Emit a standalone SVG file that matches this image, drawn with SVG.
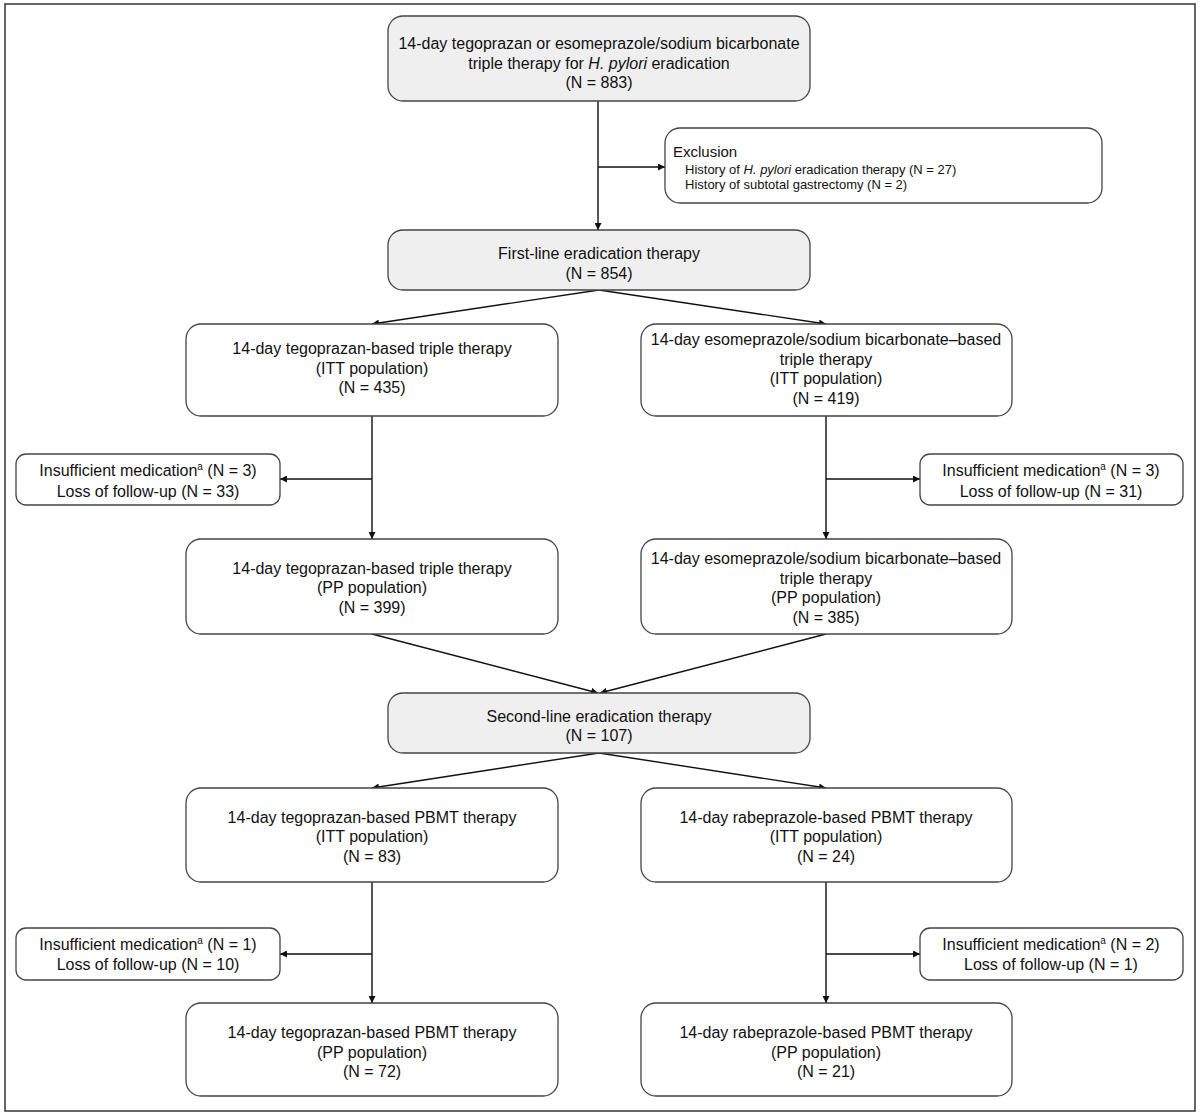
<svg xmlns="http://www.w3.org/2000/svg" width="1200" height="1115" viewBox="0 0 1200 1115">
<defs>
<marker id="ah" viewBox="0 0 10 10" refX="10" refY="5" markerWidth="7" markerHeight="7" markerUnits="userSpaceOnUse" orient="auto"><path d="M0,0 L10,5 L0,10 z" fill="#111"/></marker>
<style>
.b{fill:#fff;stroke:#444;stroke-width:1.3}
.g{fill:#efefef;stroke:#444;stroke-width:1.3}
text{font-family:"Liberation Sans",Arial,sans-serif;font-size:16px;fill:#111;text-anchor:middle}
.s{font-size:13px;text-anchor:start}
.l{text-anchor:start;font-size:15px}
.c{fill:none;stroke:#111;stroke-width:1.4}
.a{marker-end:url(#ah)}
</style>
</defs>
<rect x="0" y="0" width="1200" height="1115" fill="#fff"/>
<rect x="5" y="4" width="1190" height="1107" fill="none" stroke="#333" stroke-width="1.5"/>
<g id="connectors">
<line class="c a" x1="598" y1="101" x2="598" y2="230"/>
<line class="c a" x1="598" y1="167" x2="665" y2="167"/>
<line class="c a" x1="599" y1="290" x2="372" y2="324"/>
<line class="c a" x1="599" y1="290" x2="826" y2="324"/>
<line class="c a" x1="372" y1="416" x2="372" y2="539"/>
<line class="c a" x1="372" y1="479" x2="280" y2="479"/>
<line class="c a" x1="826" y1="416" x2="826" y2="539"/>
<line class="c a" x1="826" y1="479" x2="920" y2="479"/>
<line class="c a" x1="372" y1="634" x2="598" y2="693"/>
<line class="c a" x1="826" y1="634" x2="600" y2="693"/>
<line class="c a" x1="599" y1="753" x2="372" y2="788"/>
<line class="c a" x1="599" y1="753" x2="826" y2="788"/>
<line class="c a" x1="372" y1="882" x2="372" y2="1003"/>
<line class="c a" x1="372" y1="954" x2="280" y2="954"/>
<line class="c a" x1="826" y1="882" x2="826" y2="1003"/>
<line class="c a" x1="826" y1="954" x2="920" y2="954"/>
</g>
<g id="n-start">
<rect class="g" x="388" y="16" width="422" height="85" rx="15"/>
<text x="599" y="49">14-day tegoprazan or esomeprazole/sodium bicarbonate</text>
<text x="599" y="69">triple therapy for <tspan font-style="italic">H. pylori</tspan> eradication</text>
<text x="599" y="88">(N = 883)</text>
</g>
<g id="n-exclusion">
<rect class="b" x="665" y="128" width="437" height="75" rx="15"/>
<text class="l" x="673" y="157">Exclusion</text>
<text class="s" x="685" y="174">History of <tspan font-style="italic">H. pylori</tspan> eradication therapy (N = 27)</text>
<text class="s" x="685" y="189">History of subtotal gastrectomy (N = 2)</text>
</g>
<g id="n-first">
<rect class="g" x="388" y="230" width="422" height="60" rx="15"/>
<text x="599" y="259">First-line eradication therapy</text>
<text x="599" y="279">(N = 854)</text>
</g>
<g id="n-teg-itt">
<rect class="b" x="186" y="324" width="372" height="92" rx="15"/>
<text x="372" y="354">14-day tegoprazan-based triple therapy</text>
<text x="372" y="374">(ITT population)</text>
<text x="372" y="393">(N = 435)</text>
</g>
<g id="n-eso-itt">
<rect class="b" x="641" y="324" width="371" height="92" rx="15"/>
<text x="826" y="345">14-day esomeprazole/sodium bicarbonate–based</text>
<text x="826" y="365">triple therapy</text>
<text x="826" y="384">(ITT population)</text>
<text x="826" y="404">(N = 419)</text>
</g>
<g id="n-excl-teg1">
<rect class="b" x="16" y="454" width="264" height="51" rx="10"/>
<text x="148" y="476">Insufficient medication<tspan font-size="10" dy="-6">a</tspan><tspan dy="6"> (N = 3)</tspan></text>
<text x="148" y="497">Loss of follow-up (N = 33)</text>
</g>
<g id="n-excl-eso1">
<rect class="b" x="920" y="454" width="263" height="51" rx="10"/>
<text x="1051" y="476">Insufficient medication<tspan font-size="10" dy="-6">a</tspan><tspan dy="6"> (N = 3)</tspan></text>
<text x="1051" y="497">Loss of follow-up (N = 31)</text>
</g>
<g id="n-teg-pp">
<rect class="b" x="186" y="539" width="372" height="95" rx="15"/>
<text x="372" y="574">14-day tegoprazan-based triple therapy</text>
<text x="372" y="593">(PP population)</text>
<text x="372" y="613">(N = 399)</text>
</g>
<g id="n-eso-pp">
<rect class="b" x="641" y="539" width="371" height="95" rx="15"/>
<text x="826" y="564">14-day esomeprazole/sodium bicarbonate–based</text>
<text x="826" y="584">triple therapy</text>
<text x="826" y="603">(PP population)</text>
<text x="826" y="623">(N = 385)</text>
</g>
<g id="n-second">
<rect class="g" x="388" y="693" width="422" height="60" rx="15"/>
<text x="599" y="722">Second-line eradication therapy</text>
<text x="599" y="741">(N = 107)</text>
</g>
<g id="n-teg-pbmt-itt">
<rect class="b" x="186" y="788" width="372" height="94" rx="15"/>
<text x="372" y="823">14-day tegoprazan-based PBMT therapy</text>
<text x="372" y="842">(ITT population)</text>
<text x="372" y="862">(N = 83)</text>
</g>
<g id="n-rab-pbmt-itt">
<rect class="b" x="641" y="788" width="371" height="94" rx="15"/>
<text x="826" y="823">14-day rabeprazole-based PBMT therapy</text>
<text x="826" y="842">(ITT population)</text>
<text x="826" y="862">(N = 24)</text>
</g>
<g id="n-excl-teg2">
<rect class="b" x="16" y="928" width="264" height="52" rx="10"/>
<text x="148" y="950">Insufficient medication<tspan font-size="10" dy="-6">a</tspan><tspan dy="6"> (N = 1)</tspan></text>
<text x="148" y="970">Loss of follow-up (N = 10)</text>
</g>
<g id="n-excl-rab2">
<rect class="b" x="920" y="928" width="263" height="52" rx="10"/>
<text x="1051" y="950">Insufficient medication<tspan font-size="10" dy="-6">a</tspan><tspan dy="6"> (N = 2)</tspan></text>
<text x="1051" y="970">Loss of follow-up (N = 1)</text>
</g>
<g id="n-teg-pbmt-pp">
<rect class="b" x="186" y="1003" width="372" height="93" rx="15"/>
<text x="372" y="1038">14-day tegoprazan-based PBMT therapy</text>
<text x="372" y="1058">(PP population)</text>
<text x="372" y="1077">(N = 72)</text>
</g>
<g id="n-rab-pbmt-pp">
<rect class="b" x="641" y="1003" width="371" height="93" rx="15"/>
<text x="826" y="1038">14-day rabeprazole-based PBMT therapy</text>
<text x="826" y="1058">(PP population)</text>
<text x="826" y="1077">(N = 21)</text>
</g>
</svg>
